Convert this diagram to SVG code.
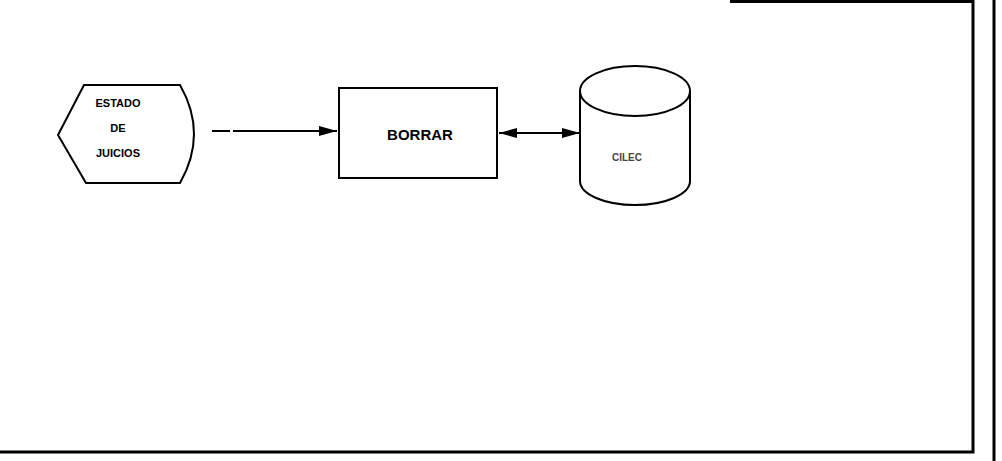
<svg xmlns="http://www.w3.org/2000/svg" width="1002" height="461" viewBox="0 0 1002 461">
<style>
.ln{fill:none;stroke:#000;stroke-width:2}
.fr{fill:none;stroke:#000;stroke-width:3}
.t{font-family:"Liberation Sans",Arial,sans-serif;font-weight:bold;fill:#000;text-anchor:middle}
.g{font-family:"Liberation Sans",Arial,sans-serif;font-weight:bold;fill:#444;text-anchor:middle}
</style>
<defs>
<marker id="ah" viewBox="0 0 18 10" refX="18" refY="5" markerWidth="18" markerHeight="10" markerUnits="userSpaceOnUse" orient="auto-start-reverse">
<path d="M0,0 L18,5 L0,10 z" fill="#000"/>
</marker>
</defs>
<rect width="1002" height="461" fill="#fff"/>
<g id="frame">
<path class="fr" d="M730,1.5 L973,1.5 L973,452 L0,452"/>
<line class="fr" x1="994" y1="0" x2="994" y2="461"/>
</g>
<g id="connectors">
<line class="ln" x1="212" y1="131" x2="337" y2="131" stroke-dasharray="18 3 100 0" marker-end="url(#ah)"/>
<line class="ln" x1="499" y1="133" x2="580" y2="133" marker-start="url(#ah)" marker-end="url(#ah)"/>
</g>
<g id="estado">
<path class="ln" d="M84,85 L180,85 Q208,134 180,183 L86,183 L58,135 Z"/>
<text class="t" font-size="11" x="118" y="107">ESTADO</text>
<text class="t" font-size="11" x="118" y="132">DE</text>
<text class="t" font-size="11" x="118" y="157">JUICIOS</text>
</g>
<g id="borrar">
<rect class="ln" x="339" y="88" width="158" height="90"/>
<text class="t" font-size="15" x="420" y="140">BORRAR</text>
</g>
<g id="clec">
<path class="ln" d="M580,91 L580,181 A55,24 0 0 0 690,181 L690,91"/>
<ellipse class="ln" cx="635" cy="91" rx="55" ry="25"/>
<text class="g" font-size="10" x="627" y="161">CILEC</text>
</g>
</svg>
